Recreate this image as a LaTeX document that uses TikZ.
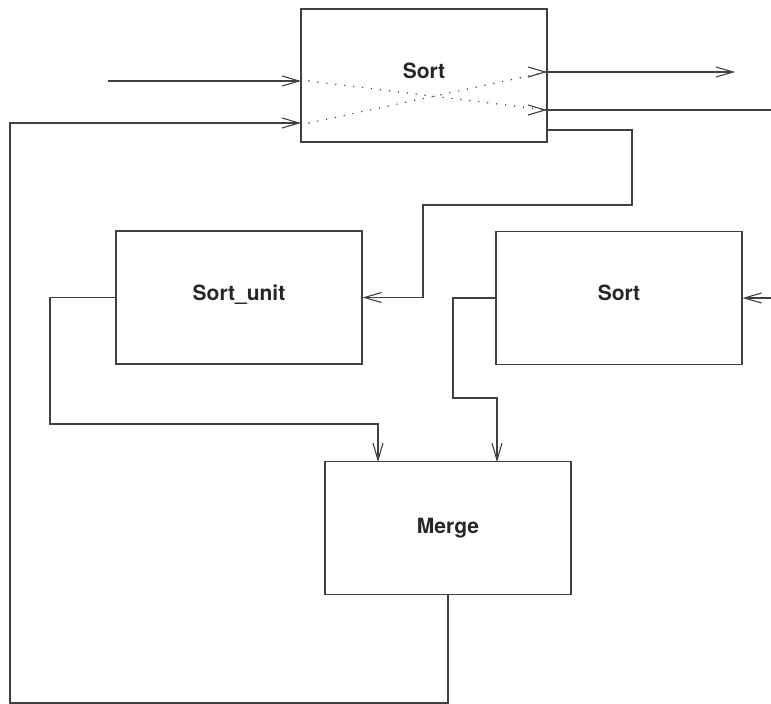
\documentclass[tikz,border=0pt]{standalone}
\usepackage{fontspec}
\setmainfont{TeX Gyre Heros}
\usepackage{tikz}
\usetikzlibrary{arrows.meta,positioning}

\begin{document}
\begin{tikzpicture}[x=1pt, y=-1pt, line width=1.1pt, draw=black!75,
    >={Straight Barb[length=17pt,width=10pt,line width=1.1pt]},
    block/.style={draw=black!75, rectangle, minimum width=246pt, minimum height=133pt,
        inner sep=0pt, font=\fontsize{21}{25}\selectfont\bfseries, text=black!85},
    cross/.style={line width=1.6pt, line cap=round, dash pattern=on 0pt off 9pt}]
    \useasboundingbox (0,0) rectangle (771,704);

    \node[block] (sortA) at (424,75.5) {\raisebox{10pt}{Sort}};
    \node[block] (sortU) at (239,297.5) {\raisebox{10pt}{Sort\_unit}};
    \node[block] (sortB) at (619,298) {\raisebox{10pt}{Sort}};
    \node[block] (merge) at (448,528) {\raisebox{4pt}{Merge}};

    % ports of the top Sort
    \coordinate (inA) at (301,81);
    \coordinate (inB) at (301,123);
    \coordinate (outA) at (547,72);
    \coordinate (outB) at (547,110);
    \coordinate (outC) at (547,130);

    % free ends
    \coordinate (src) at (108,81);
    \coordinate (dstA) at (735,72);
    \coordinate (dstB) at (771,110);
    \coordinate (srcR) at (771,298);

    \draw[->] (src) -- (inA);
    \draw[cross] ([xshift=8pt]inA) -- (outB);
    \draw[cross] ([xshift=8pt]inB) -- (outA);
    \draw[<-] (outB) -- ([xshift=-1pt]outB);
    \draw[<-] (outA) -- ([xshift=-1pt]outA);
    \draw[->] (outA) -- (dstA);
    \draw (outB) -- (dstB);

    \draw[->] (outC) -- (632,130) -- (632,205) -- (423,205) |- (sortU.east);
    \draw[->] (srcR) -- (sortB.east);

    \draw[->] (sortU.west) -- (50,297.5) |- (378,424) -- (378,462);
    \draw[->] (sortB.west) -- (453,298) |- (497,398) -- (497,462);

    \draw[->] (merge.south) -- (448,703) -- (10,703) |- (inB);
\end{tikzpicture}
\end{document}
